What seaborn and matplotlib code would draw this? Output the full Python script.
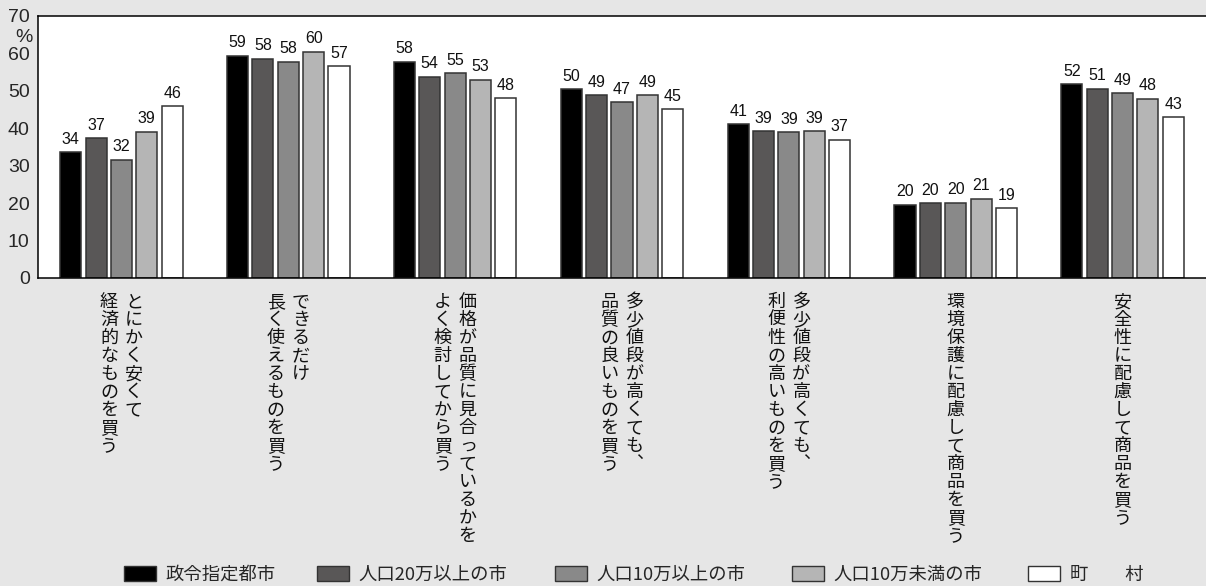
import matplotlib
matplotlib.use("Agg")
import matplotlib.pyplot as plt
from matplotlib.patches import Patch
import numpy as np
import pandas as pd
import seaborn as sns

# Purchasing attitudes by municipality size (%)
items = [
    "とにかく安くて\n経済的なものを買う",
    "できるだけ\n長く使えるものを買う",
    "価格が品質に見合っているかを\nよく検討してから買う",
    "多少値段が高くても、\n品質の良いものを買う",
    "多少値段が高くても、\n利便性の高いものを買う",
    "環境保護に配慮して商品を買う",
    "安全性に配慮して商品を買う",
]
groups = ["政令指定都市", "人口20万以上の市", "人口10万以上の市", "人口10万未満の市", "町\u3000\u3000村"]

designated_cities = [33.6, 59.3, 57.7, 50.4, 41.1, 19.6, 51.8]
cities_200k = [37.3, 58.5, 53.7, 48.8, 39.2, 20.0, 50.6]
cities_100k = [31.6, 57.7, 54.7, 47.0, 38.9, 20.1, 49.4]
cities_under_100k = [39.1, 60.4, 52.9, 48.8, 39.2, 21.2, 47.9]
towns_villages = [45.9, 56.6, 48.0, 45.1, 37.0, 18.6, 42.9]

series = [designated_cities, cities_200k, cities_100k, cities_under_100k, towns_villages]
colors = ["#000000", "#595757", "#898989", "#b5b5b5", "#ffffff"]

rows = []
for g, vals in zip(groups, series):
    for it, v in zip(items, vals):
        rows.append({"item": it, "group": g, "pct": v})
df = pd.DataFrame(rows)

sns.set_style("white")
plt.rcParams["font.family"] = ["Noto Sans CJK JP", "DejaVu Sans"]
NUM_FONT = ["Liberation Sans", "DejaVu Sans"]

W, H = 1206, 586
fig = plt.figure(figsize=(W / 100, H / 100), dpi=100, facecolor="#e6e6e6")
ax = fig.add_axes([38 / W, 1 - 278 / H, 1 - 38 / W, (278 - 16) / H])
ax.set_facecolor("#ffffff")

sns.barplot(
    data=df, x="item", y="pct", hue="group",
    order=items, hue_order=groups, palette=colors,
    width=0.76, gap=0.17, edgecolor="#333333", linewidth=1.1,
    legend=False, ax=ax,
)

for cont in ax.containers:
    ax.bar_label(cont, fmt="%.0f", padding=4, fontsize=11.5,
                 family=NUM_FONT, color="#111111")

ax.set_xlim(-0.5, len(items) - 0.5)
ax.set_ylim(0, 70)
ax.set_yticks(np.arange(0, 71, 10))
ax.set_xlabel("")
ax.set_ylabel("")
ax.set_xticks(range(len(items)))
ax.set_xticklabels([])
ax.tick_params(axis="x", which="major", length=0)
ax.set_xticks(np.arange(0.5, len(items) - 0.5, 1), minor=True)
ax.tick_params(axis="x", which="minor", direction="in", length=5,
               width=1.4, color="#8a8a8a")
ax.tick_params(axis="y", direction="inout", length=10, width=1.1,
               color="#000000", pad=1, labelsize=14)
for lab in ax.get_yticklabels():
    lab.set_family(NUM_FONT)

for side in ["left", "bottom", "top"]:
    ax.spines[side].set_visible(True)
    ax.spines[side].set_color("#000000")
    ax.spines[side].set_linewidth(1.1)
ax.spines["right"].set_visible(False)

# Vertical (top-to-bottom, right-to-left) category labels
vertical_forms = {"、": "\ufe11", "。": "\ufe12"}
col_gap = 18.0   # points between columns
step = 12.96     # points between characters
first_base = 21.0
for i, it in enumerate(items):
    cols = it.split("\n")
    n = len(cols)
    for c, col in enumerate(cols):
        dx = ((n - 1) / 2 - c) * col_gap
        for j, ch in enumerate(col):
            ax.annotate(vertical_forms.get(ch, ch), xy=(i, 0),
                        xycoords=("data", "axes fraction"),
                        xytext=(dx, -first_base - j * step),
                        textcoords="offset points", ha="center",
                        va="baseline", fontsize=13, color="#111111",
                        annotation_clip=False)

fig.text(24 / W, 1 - 37 / H, "%", ha="center", va="center",
         fontsize=14, family=NUM_FONT)

# Legend entries laid out in one row along the bottom
legend_left_px = [124, 317, 555, 792, 1028]
for g, c, xpx in zip(groups, colors, legend_left_px):
    h = Patch(facecolor=c, edgecolor="#333333", linewidth=1.0)
    fig.legend([h], [g], loc="center left", bbox_to_anchor=(xpx / W, 1 - 575 / H),
               frameon=False, fontsize=13.2, handlelength=1.72, handleheight=0.85,
               handletextpad=0.55, borderpad=0, borderaxespad=0)

fig.savefig("out.png", dpi=100, facecolor=fig.get_facecolor())
